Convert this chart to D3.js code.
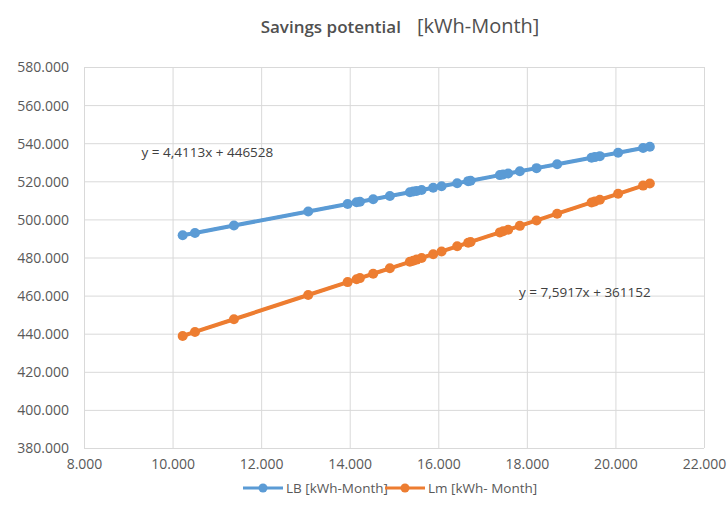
<!DOCTYPE html>
<html>
<head>
<meta charset="utf-8">
<script src="https://cdn.jsdelivr.net/npm/d3@7"></script>
<style>
  html, body { margin: 0; padding: 0; background: #fff; }
  svg { display: block; }
  text { font-family: "Open Sans", "Liberation Sans", sans-serif; fill: #595959; }
</style>
</head>
<body>
<svg id="chart" width="727" height="524"></svg>
<script>
// ---- data ----
const xValues = [10228, 10506, 11386, 13063, 13953, 14156, 14230, 14530, 14907, 15359,
  15434, 15510, 15623, 15885, 16074, 16427, 16675, 16729, 17391, 17465,
  17578, 17842, 18219, 18684, 19461, 19535, 19648, 20061, 20625, 20777];
const lbValues = [491647, 492873, 496755, 504153, 508079, 508974, 509301, 510624, 512287, 514281,
  514612, 514947, 515446, 516601, 517435, 518992, 520086, 520325, 523245, 523572,
  524070, 525235, 526898, 528949, 532377, 532703, 533202, 535023, 537511, 538182];
const lmValues = [438800, 440910, 447591, 460322, 467079, 468620, 469182, 471459, 474321, 477753,
  478322, 478899, 479757, 481746, 483181, 485861, 487743, 488153, 493179, 493741,
  494599, 496603, 499465, 502995, 508894, 509455, 510313, 513449, 517730, 518884];
const seriesNames = ["LB [kWh-Month]", "Lm [kWh- Month]"];
const trendLabels = ["y = 4,4113x + 446528", "y = 7,5917x + 361152"];
const trendLabelPos = [[9300, 535400], [17823, 461900]];
const xTicks = [8000, 10000, 12000, 14000, 16000, 18000, 20000, 22000];
const yTicks = [380000, 400000, 420000, 440000, 460000, 480000, 500000, 520000, 540000, 560000, 580000];
const titleMain = "Savings potential";
const titleUnit = "[kWh-Month]";

// ---- layout ----
const colors = ["#5B9BD5", "#ED7D31"];
const svg = d3.select("#chart");
const L = 84, R = 704, T = 67, B = 448;
const x = d3.scaleLinear().domain([8000, 22000]).range([L, R]);
const y = d3.scaleLinear().domain([380000, 580000]).range([B, T]);
const fmt = v => d3.format(",.0f")(v).replace(/,/g, ".");

// title
const title = svg.append("text").attr("x", 400).attr("y", 33).attr("text-anchor", "middle");
title.append("tspan").attr("font-size", 17).attr("font-weight", 600).style("fill", "#505050").text(titleMain);
title.append("tspan").attr("font-size", 20).attr("dx", 16).style("fill", "#505050").text(titleUnit);

// gridlines
svg.append("g").attr("transform", `translate(0,${B})`)
  .call(d3.axisBottom(x).tickValues(xTicks).tickSize(-(B - T)).tickFormat(fmt))
  .call(g => g.select(".domain").remove())
  .call(g => g.selectAll("line").attr("stroke", "#d9d9d9").attr("stroke-width", 1))
  .call(g => g.selectAll("text").attr("font-size", 14).attr("dy", 0).attr("y", 21).style("fill", "#595959"));

svg.append("g").attr("transform", `translate(${L},0)`)
  .call(d3.axisLeft(y).tickValues(yTicks).tickSize(-(R - L)).tickFormat(fmt))
  .call(g => g.select(".domain").remove())
  .call(g => g.selectAll("line").attr("stroke", "#d9d9d9").attr("stroke-width", 1))
  .call(g => g.selectAll("text").attr("font-size", 14).attr("x", -15).attr("dy", "0.35em").style("fill", "#595959"));

// series
const series = [lbValues, lmValues];
const line = d3.line().x(d => x(d[0])).y(d => y(d[1]));
series.forEach((vals, i) => {
  const pts = xValues.map((xv, j) => [xv, vals[j]]);
  const g = svg.append("g");
  g.append("path").datum(pts).attr("d", line)
    .attr("fill", "none").attr("stroke", colors[i]).attr("stroke-width", 4)
    .attr("stroke-linejoin", "round");
  g.append("path").datum([pts[0], pts[pts.length - 1]]).attr("d", line)
    .attr("fill", "none").attr("stroke", colors[i]).attr("stroke-width", 3)
    .attr("stroke-dasharray", "2,2");
  g.selectAll("circle").data(pts).enter().append("circle")
    .attr("cx", d => x(d[0])).attr("cy", d => y(d[1])).attr("r", 5)
    .attr("fill", colors[i]);
  svg.append("text").attr("x", x(trendLabelPos[i][0])).attr("y", y(trendLabelPos[i][1]))
    .attr("font-size", 13.5).attr("dy", "0.35em").style("fill", "#404040").text(trendLabels[i]);
});

// legend
const legendItems = [{ x: 243, name: seriesNames[0], c: colors[0] }, { x: 385, name: seriesNames[1], c: colors[1] }];
legendItems.forEach(it => {
  const g = svg.append("g").attr("transform", `translate(${it.x},${488})`);
  g.append("line").attr("x1", 0).attr("x2", 40).attr("stroke", it.c).attr("stroke-width", 3);
  g.append("circle").attr("cx", 20).attr("r", 4.5).attr("fill", it.c);
  g.append("text").attr("x", 43).attr("dy", "0.35em").attr("font-size", 13.5).text(it.name);
});
</script>
</body>
</html>
